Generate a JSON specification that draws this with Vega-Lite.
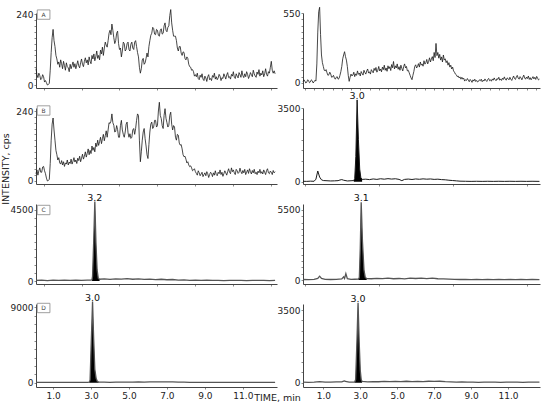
{
"$schema": "https://vega.github.io/schema/vega-lite/v6.json",
"background": "white",
"padding": {"left": 1, "top": 5, "right": 4, "bottom": 0},
"config": {
  "view": {"stroke": null},
  "font": "DejaVu Sans",
  "axis": {"grid": false, "domainColor": "#444", "domainWidth": 1, "tickColor": "#888", "tickSize": 2, "labelFont": "DejaVu Sans", "labelFontSize": 9, "labelColor": "#222", "labelPadding": 1, "titleFont": "DejaVu Sans", "titleFontSize": 9.5, "titleFontWeight": "normal", "titleColor": "#222"}
},
"datasets": {
"A": [{"t":0.1,"v":55},{"t":0.15,"v":35},{"t":0.2,"v":25},{"t":0.25,"v":40},{"t":0.3,"v":32},{"t":0.35,"v":18},{"t":0.4,"v":22},{"t":0.45,"v":35},{"t":0.5,"v":28},{"t":0.55,"v":10},{"t":0.6,"v":15},{"t":0.65,"v":8},{"t":0.7,"v":0},{"t":0.75,"v":2},{"t":0.8,"v":5},{"t":0.85,"v":50},{"t":0.9,"v":110},{"t":0.95,"v":160},{"t":1.0,"v":188},{"t":1.05,"v":150},{"t":1.1,"v":130},{"t":1.15,"v":100},{"t":1.2,"v":88},{"t":1.25,"v":70},{"t":1.3,"v":78},{"t":1.35,"v":60},{"t":1.4,"v":85},{"t":1.45,"v":72},{"t":1.5,"v":55},{"t":1.55,"v":80},{"t":1.6,"v":66},{"t":1.65,"v":50},{"t":1.7,"v":75},{"t":1.75,"v":62},{"t":1.8,"v":58},{"t":1.85,"v":45},{"t":1.9,"v":70},{"t":1.95,"v":55},{"t":2.0,"v":66},{"t":2.05,"v":78},{"t":2.1,"v":60},{"t":2.15,"v":72},{"t":2.2,"v":55},{"t":2.25,"v":68},{"t":2.3,"v":82},{"t":2.35,"v":65},{"t":2.4,"v":58},{"t":2.45,"v":75},{"t":2.5,"v":88},{"t":2.55,"v":70},{"t":2.6,"v":62},{"t":2.65,"v":80},{"t":2.7,"v":92},{"t":2.75,"v":75},{"t":2.8,"v":85},{"t":2.85,"v":68},{"t":2.9,"v":95},{"t":2.95,"v":80},{"t":3.0,"v":72},{"t":3.05,"v":100},{"t":3.1,"v":88},{"t":3.15,"v":105},{"t":3.2,"v":82},{"t":3.25,"v":95},{"t":3.3,"v":115},{"t":3.35,"v":90},{"t":3.4,"v":100},{"t":3.45,"v":85},{"t":3.5,"v":118},{"t":3.55,"v":105},{"t":3.6,"v":128},{"t":3.65,"v":100},{"t":3.7,"v":125},{"t":3.75,"v":145},{"t":3.8,"v":135},{"t":3.85,"v":128},{"t":3.9,"v":150},{"t":3.95,"v":175},{"t":4.0,"v":185},{"t":4.05,"v":170},{"t":4.1,"v":206},{"t":4.15,"v":185},{"t":4.2,"v":160},{"t":4.25,"v":140},{"t":4.3,"v":150},{"t":4.35,"v":175},{"t":4.4,"v":182},{"t":4.45,"v":140},{"t":4.5,"v":120},{"t":4.55,"v":125},{"t":4.6,"v":95},{"t":4.65,"v":115},{"t":4.7,"v":145},{"t":4.75,"v":140},{"t":4.8,"v":115},{"t":4.85,"v":120},{"t":4.9,"v":140},{"t":4.95,"v":145},{"t":5.0,"v":120},{"t":5.05,"v":115},{"t":5.1,"v":138},{"t":5.15,"v":145},{"t":5.2,"v":125},{"t":5.25,"v":120},{"t":5.3,"v":145},{"t":5.35,"v":150},{"t":5.4,"v":130},{"t":5.45,"v":110},{"t":5.5,"v":95},{"t":5.55,"v":60},{"t":5.6,"v":40},{"t":5.65,"v":55},{"t":5.7,"v":85},{"t":5.75,"v":90},{"t":5.8,"v":70},{"t":5.85,"v":75},{"t":5.9,"v":90},{"t":5.95,"v":108},{"t":6.0,"v":95},{"t":6.05,"v":130},{"t":6.1,"v":150},{"t":6.15,"v":168},{"t":6.2,"v":175},{"t":6.25,"v":195},{"t":6.3,"v":191},{"t":6.35,"v":172},{"t":6.4,"v":170},{"t":6.45,"v":188},{"t":6.5,"v":185},{"t":6.55,"v":168},{"t":6.6,"v":165},{"t":6.65,"v":185},{"t":6.7,"v":190},{"t":6.75,"v":172},{"t":6.8,"v":175},{"t":6.85,"v":200},{"t":6.9,"v":210},{"t":6.95,"v":185},{"t":7.0,"v":180},{"t":7.05,"v":195},{"t":7.1,"v":200},{"t":7.15,"v":235},{"t":7.2,"v":255},{"t":7.25,"v":210},{"t":7.3,"v":185},{"t":7.35,"v":165},{"t":7.4,"v":165},{"t":7.45,"v":165},{"t":7.5,"v":150},{"t":7.55,"v":125},{"t":7.6,"v":115},{"t":7.65,"v":130},{"t":7.7,"v":130},{"t":7.75,"v":108},{"t":7.8,"v":100},{"t":7.85,"v":112},{"t":7.9,"v":110},{"t":7.95,"v":90},{"t":8.0,"v":85},{"t":8.05,"v":95},{"t":8.1,"v":90},{"t":8.15,"v":70},{"t":8.2,"v":62},{"t":8.25,"v":60},{"t":8.3,"v":50},{"t":8.35,"v":52},{"t":8.4,"v":45},{"t":8.45,"v":30},{"t":8.5,"v":35},{"t":8.55,"v":28},{"t":8.6,"v":40},{"t":8.65,"v":22},{"t":8.7,"v":18},{"t":8.75,"v":33},{"t":8.8,"v":26},{"t":8.85,"v":38},{"t":8.9,"v":20},{"t":8.95,"v":15},{"t":9.0,"v":30},{"t":9.05,"v":24},{"t":9.1,"v":12},{"t":9.15,"v":28},{"t":9.2,"v":35},{"t":9.25,"v":18},{"t":9.3,"v":22},{"t":9.35,"v":15},{"t":9.4,"v":32},{"t":9.45,"v":26},{"t":9.5,"v":40},{"t":9.55,"v":20},{"t":9.6,"v":28},{"t":9.65,"v":18},{"t":9.7,"v":24},{"t":9.75,"v":36},{"t":9.8,"v":30},{"t":9.85,"v":15},{"t":9.9,"v":25},{"t":9.95,"v":22},{"t":10.0,"v":38},{"t":10.05,"v":30},{"t":10.1,"v":20},{"t":10.15,"v":34},{"t":10.2,"v":42},{"t":10.25,"v":25},{"t":10.3,"v":28},{"t":10.35,"v":20},{"t":10.4,"v":36},{"t":10.45,"v":30},{"t":10.5,"v":45},{"t":10.55,"v":26},{"t":10.6,"v":22},{"t":10.65,"v":38},{"t":10.7,"v":30},{"t":10.75,"v":24},{"t":10.8,"v":42},{"t":10.85,"v":35},{"t":10.9,"v":26},{"t":10.95,"v":48},{"t":11.0,"v":32},{"t":11.05,"v":25},{"t":11.1,"v":38},{"t":11.15,"v":28},{"t":11.2,"v":45},{"t":11.25,"v":36},{"t":11.3,"v":22},{"t":11.35,"v":30},{"t":11.4,"v":42},{"t":11.45,"v":35},{"t":11.5,"v":28},{"t":11.55,"v":50},{"t":11.6,"v":38},{"t":11.65,"v":30},{"t":11.7,"v":26},{"t":11.75,"v":44},{"t":11.8,"v":36},{"t":11.85,"v":52},{"t":11.9,"v":30},{"t":11.95,"v":40},{"t":12.0,"v":34},{"t":12.05,"v":48},{"t":12.1,"v":28},{"t":12.15,"v":38},{"t":12.2,"v":55},{"t":12.25,"v":36},{"t":12.3,"v":30},{"t":12.35,"v":45},{"t":12.4,"v":40},{"t":12.45,"v":60},{"t":12.5,"v":80},{"t":12.55,"v":50},{"t":12.6,"v":40},{"t":12.65,"v":48},{"t":12.7,"v":38}],
"R1": [{"t":-0.1,"v":12},{"t":-0.05,"v":25},{"t":0.0,"v":15},{"t":0.05,"v":0},{"t":0.1,"v":5},{"t":0.15,"v":25},{"t":0.2,"v":20},{"t":0.25,"v":2},{"t":0.3,"v":8},{"t":0.35,"v":25},{"t":0.4,"v":18},{"t":0.45,"v":0},{"t":0.5,"v":10},{"t":0.55,"v":22},{"t":0.6,"v":15},{"t":0.65,"v":150},{"t":0.7,"v":400},{"t":0.75,"v":560},{"t":0.8,"v":595},{"t":0.85,"v":380},{"t":0.9,"v":220},{"t":0.95,"v":160},{"t":1.0,"v":130},{"t":1.05,"v":100},{"t":1.1,"v":95},{"t":1.15,"v":105},{"t":1.2,"v":80},{"t":1.25,"v":60},{"t":1.3,"v":65},{"t":1.35,"v":85},{"t":1.4,"v":70},{"t":1.45,"v":45},{"t":1.5,"v":48},{"t":1.55,"v":60},{"t":1.6,"v":40},{"t":1.65,"v":30},{"t":1.7,"v":45},{"t":1.75,"v":50},{"t":1.8,"v":30},{"t":1.85,"v":35},{"t":1.9,"v":60},{"t":1.95,"v":90},{"t":2.0,"v":130},{"t":2.05,"v":190},{"t":2.1,"v":220},{"t":2.15,"v":246},{"t":2.2,"v":207},{"t":2.25,"v":180},{"t":2.3,"v":130},{"t":2.35,"v":60},{"t":2.4,"v":13},{"t":2.45,"v":45},{"t":2.5,"v":70},{"t":2.55,"v":55},{"t":2.6,"v":62},{"t":2.65,"v":85},{"t":2.7,"v":50},{"t":2.75,"v":72},{"t":2.8,"v":60},{"t":2.85,"v":95},{"t":2.9,"v":68},{"t":2.95,"v":78},{"t":3.0,"v":55},{"t":3.05,"v":90},{"t":3.1,"v":75},{"t":3.15,"v":62},{"t":3.2,"v":100},{"t":3.25,"v":82},{"t":3.3,"v":70},{"t":3.35,"v":95},{"t":3.4,"v":110},{"t":3.45,"v":78},{"t":3.5,"v":88},{"t":3.55,"v":70},{"t":3.6,"v":105},{"t":3.65,"v":92},{"t":3.7,"v":80},{"t":3.75,"v":115},{"t":3.8,"v":98},{"t":3.85,"v":122},{"t":3.9,"v":85},{"t":3.95,"v":100},{"t":4.0,"v":130},{"t":4.05,"v":95},{"t":4.1,"v":110},{"t":4.15,"v":88},{"t":4.2,"v":125},{"t":4.25,"v":105},{"t":4.3,"v":140},{"t":4.35,"v":100},{"t":4.4,"v":118},{"t":4.45,"v":92},{"t":4.5,"v":135},{"t":4.55,"v":112},{"t":4.6,"v":128},{"t":4.65,"v":98},{"t":4.7,"v":145},{"t":4.75,"v":120},{"t":4.8,"v":169},{"t":4.85,"v":110},{"t":4.9,"v":135},{"t":4.95,"v":118},{"t":5.0,"v":150},{"t":5.05,"v":108},{"t":5.1,"v":128},{"t":5.15,"v":100},{"t":5.2,"v":140},{"t":5.25,"v":115},{"t":5.3,"v":95},{"t":5.35,"v":130},{"t":5.4,"v":150},{"t":5.45,"v":118},{"t":5.5,"v":130},{"t":5.55,"v":95},{"t":5.6,"v":100},{"t":5.65,"v":80},{"t":5.7,"v":60},{"t":5.75,"v":40},{"t":5.8,"v":26},{"t":5.85,"v":60},{"t":5.9,"v":90},{"t":5.95,"v":130},{"t":6.0,"v":143},{"t":6.05,"v":118},{"t":6.1,"v":130},{"t":6.15,"v":152},{"t":6.2,"v":125},{"t":6.25,"v":165},{"t":6.3,"v":140},{"t":6.35,"v":150},{"t":6.4,"v":132},{"t":6.45,"v":175},{"t":6.5,"v":148},{"t":6.55,"v":160},{"t":6.6,"v":185},{"t":6.65,"v":150},{"t":6.7,"v":170},{"t":6.75,"v":198},{"t":6.8,"v":165},{"t":6.85,"v":190},{"t":6.9,"v":207},{"t":6.95,"v":175},{"t":7.0,"v":240},{"t":7.05,"v":200},{"t":7.1,"v":311},{"t":7.15,"v":215},{"t":7.2,"v":240},{"t":7.25,"v":195},{"t":7.3,"v":225},{"t":7.35,"v":180},{"t":7.4,"v":205},{"t":7.45,"v":165},{"t":7.5,"v":220},{"t":7.55,"v":180},{"t":7.6,"v":190},{"t":7.65,"v":160},{"t":7.7,"v":175},{"t":7.75,"v":140},{"t":7.8,"v":160},{"t":7.85,"v":125},{"t":7.9,"v":140},{"t":7.95,"v":110},{"t":8.0,"v":125},{"t":8.05,"v":95},{"t":8.1,"v":85},{"t":8.15,"v":70},{"t":8.2,"v":65},{"t":8.25,"v":50},{"t":8.3,"v":55},{"t":8.35,"v":40},{"t":8.4,"v":48},{"t":8.45,"v":30},{"t":8.5,"v":45},{"t":8.55,"v":30},{"t":8.6,"v":38},{"t":8.65,"v":15},{"t":8.7,"v":26},{"t":8.75,"v":20},{"t":8.8,"v":35},{"t":8.85,"v":22},{"t":8.9,"v":10},{"t":8.95,"v":28},{"t":9.0,"v":18},{"t":9.05,"v":5},{"t":9.1,"v":25},{"t":9.15,"v":15},{"t":9.2,"v":30},{"t":9.25,"v":12},{"t":9.3,"v":20},{"t":9.35,"v":8},{"t":9.4,"v":13},{"t":9.45,"v":25},{"t":9.5,"v":18},{"t":9.55,"v":30},{"t":9.6,"v":10},{"t":9.65,"v":22},{"t":9.7,"v":15},{"t":9.75,"v":32},{"t":9.8,"v":20},{"t":9.85,"v":12},{"t":9.9,"v":28},{"t":9.95,"v":36},{"t":10.0,"v":18},{"t":10.05,"v":25},{"t":10.1,"v":14},{"t":10.15,"v":32},{"t":10.2,"v":22},{"t":10.25,"v":40},{"t":10.3,"v":26},{"t":10.35,"v":18},{"t":10.4,"v":35},{"t":10.45,"v":28},{"t":10.5,"v":45},{"t":10.55,"v":22},{"t":10.6,"v":32},{"t":10.65,"v":20},{"t":10.7,"v":38},{"t":10.75,"v":28},{"t":10.8,"v":48},{"t":10.85,"v":30},{"t":10.9,"v":22},{"t":10.95,"v":40},{"t":11.0,"v":35},{"t":11.05,"v":25},{"t":11.1,"v":45},{"t":11.15,"v":30},{"t":11.2,"v":20},{"t":11.25,"v":38},{"t":11.3,"v":55},{"t":11.35,"v":35},{"t":11.4,"v":28},{"t":11.45,"v":48},{"t":11.5,"v":60},{"t":11.55,"v":38},{"t":11.6,"v":30},{"t":11.65,"v":50},{"t":11.7,"v":40},{"t":11.75,"v":25},{"t":11.8,"v":45},{"t":11.85,"v":62},{"t":11.9,"v":40},{"t":11.95,"v":30},{"t":12.0,"v":47},{"t":12.05,"v":35},{"t":12.1,"v":55},{"t":12.15,"v":28},{"t":12.2,"v":42},{"t":12.25,"v":25},{"t":12.3,"v":38},{"t":12.35,"v":50},{"t":12.4,"v":32},{"t":12.45,"v":45},{"t":12.5,"v":28},{"t":12.55,"v":52},{"t":12.6,"v":38},{"t":12.65,"v":24},{"t":12.7,"v":30}],
"B": [{"t":0.1,"v":25},{"t":0.15,"v":38},{"t":0.2,"v":20},{"t":0.25,"v":35},{"t":0.3,"v":45},{"t":0.35,"v":30},{"t":0.4,"v":30},{"t":0.45,"v":48},{"t":0.5,"v":50},{"t":0.55,"v":35},{"t":0.6,"v":25},{"t":0.65,"v":10},{"t":0.7,"v":0},{"t":0.75,"v":2},{"t":0.8,"v":5},{"t":0.85,"v":60},{"t":0.9,"v":140},{"t":0.95,"v":195},{"t":1.0,"v":216},{"t":1.05,"v":175},{"t":1.1,"v":140},{"t":1.15,"v":105},{"t":1.2,"v":90},{"t":1.25,"v":72},{"t":1.3,"v":80},{"t":1.35,"v":62},{"t":1.4,"v":58},{"t":1.45,"v":70},{"t":1.5,"v":55},{"t":1.55,"v":66},{"t":1.6,"v":50},{"t":1.65,"v":62},{"t":1.7,"v":58},{"t":1.75,"v":72},{"t":1.8,"v":55},{"t":1.85,"v":65},{"t":1.9,"v":60},{"t":1.95,"v":75},{"t":2.0,"v":58},{"t":2.05,"v":68},{"t":2.1,"v":80},{"t":2.15,"v":65},{"t":2.2,"v":72},{"t":2.25,"v":60},{"t":2.3,"v":78},{"t":2.35,"v":70},{"t":2.4,"v":85},{"t":2.45,"v":66},{"t":2.5,"v":78},{"t":2.55,"v":92},{"t":2.6,"v":75},{"t":2.65,"v":85},{"t":2.7,"v":100},{"t":2.75,"v":82},{"t":2.8,"v":95},{"t":2.85,"v":110},{"t":2.9,"v":90},{"t":2.95,"v":105},{"t":3.0,"v":94},{"t":3.05,"v":120},{"t":3.1,"v":105},{"t":3.15,"v":115},{"t":3.2,"v":100},{"t":3.25,"v":130},{"t":3.3,"v":118},{"t":3.35,"v":140},{"t":3.4,"v":122},{"t":3.45,"v":135},{"t":3.5,"v":150},{"t":3.55,"v":128},{"t":3.6,"v":145},{"t":3.65,"v":160},{"t":3.7,"v":138},{"t":3.75,"v":155},{"t":3.8,"v":172},{"t":3.85,"v":150},{"t":3.9,"v":175},{"t":3.95,"v":200},{"t":4.0,"v":197},{"t":4.05,"v":205},{"t":4.1,"v":230},{"t":4.15,"v":200},{"t":4.2,"v":191},{"t":4.25,"v":168},{"t":4.3,"v":170},{"t":4.35,"v":190},{"t":4.4,"v":176},{"t":4.45,"v":150},{"t":4.5,"v":150},{"t":4.55,"v":190},{"t":4.6,"v":208},{"t":4.65,"v":175},{"t":4.7,"v":160},{"t":4.75,"v":150},{"t":4.8,"v":168},{"t":4.85,"v":195},{"t":4.9,"v":202},{"t":4.95,"v":165},{"t":5.0,"v":150},{"t":5.05,"v":162},{"t":5.1,"v":146},{"t":5.15,"v":150},{"t":5.2,"v":175},{"t":5.25,"v":180},{"t":5.3,"v":160},{"t":5.35,"v":180},{"t":5.4,"v":208},{"t":5.45,"v":230},{"t":5.5,"v":225},{"t":5.55,"v":140},{"t":5.6,"v":66},{"t":5.65,"v":100},{"t":5.7,"v":140},{"t":5.75,"v":168},{"t":5.8,"v":180},{"t":5.85,"v":145},{"t":5.9,"v":120},{"t":5.95,"v":90},{"t":6.0,"v":77},{"t":6.05,"v":125},{"t":6.1,"v":168},{"t":6.15,"v":195},{"t":6.2,"v":202},{"t":6.25,"v":180},{"t":6.3,"v":185},{"t":6.35,"v":208},{"t":6.4,"v":208},{"t":6.45,"v":185},{"t":6.5,"v":190},{"t":6.55,"v":240},{"t":6.6,"v":270},{"t":6.65,"v":225},{"t":6.7,"v":214},{"t":6.75,"v":190},{"t":6.8,"v":180},{"t":6.85,"v":225},{"t":6.9,"v":248},{"t":6.95,"v":215},{"t":7.0,"v":200},{"t":7.05,"v":185},{"t":7.1,"v":191},{"t":7.15,"v":225},{"t":7.2,"v":236},{"t":7.25,"v":195},{"t":7.3,"v":175},{"t":7.35,"v":190},{"t":7.4,"v":185},{"t":7.45,"v":150},{"t":7.5,"v":140},{"t":7.55,"v":160},{"t":7.6,"v":157},{"t":7.65,"v":130},{"t":7.7,"v":123},{"t":7.75,"v":125},{"t":7.8,"v":110},{"t":7.85,"v":90},{"t":7.9,"v":83},{"t":7.95,"v":85},{"t":8.0,"v":75},{"t":8.05,"v":62},{"t":8.1,"v":66},{"t":8.15,"v":55},{"t":8.2,"v":49},{"t":8.25,"v":52},{"t":8.3,"v":45},{"t":8.35,"v":35},{"t":8.4,"v":38},{"t":8.45,"v":42},{"t":8.5,"v":32},{"t":8.55,"v":26},{"t":8.6,"v":20},{"t":8.65,"v":35},{"t":8.7,"v":28},{"t":8.75,"v":18},{"t":8.8,"v":24},{"t":8.85,"v":30},{"t":8.9,"v":15},{"t":8.95,"v":22},{"t":9.0,"v":28},{"t":9.05,"v":18},{"t":9.1,"v":32},{"t":9.15,"v":25},{"t":9.2,"v":12},{"t":9.25,"v":22},{"t":9.3,"v":30},{"t":9.35,"v":26},{"t":9.4,"v":15},{"t":9.45,"v":28},{"t":9.5,"v":20},{"t":9.55,"v":35},{"t":9.6,"v":22},{"t":9.65,"v":18},{"t":9.7,"v":30},{"t":9.75,"v":25},{"t":9.8,"v":38},{"t":9.85,"v":22},{"t":9.9,"v":30},{"t":9.95,"v":16},{"t":10.0,"v":25},{"t":10.05,"v":35},{"t":10.1,"v":28},{"t":10.15,"v":20},{"t":10.2,"v":32},{"t":10.25,"v":42},{"t":10.3,"v":30},{"t":10.35,"v":25},{"t":10.4,"v":45},{"t":10.45,"v":32},{"t":10.5,"v":38},{"t":10.55,"v":28},{"t":10.6,"v":22},{"t":10.65,"v":40},{"t":10.7,"v":35},{"t":10.75,"v":26},{"t":10.8,"v":30},{"t":10.85,"v":44},{"t":10.9,"v":32},{"t":10.95,"v":25},{"t":11.0,"v":36},{"t":11.05,"v":28},{"t":11.1,"v":40},{"t":11.15,"v":22},{"t":11.2,"v":30},{"t":11.25,"v":38},{"t":11.3,"v":26},{"t":11.35,"v":42},{"t":11.4,"v":32},{"t":11.45,"v":24},{"t":11.5,"v":36},{"t":11.55,"v":28},{"t":11.6,"v":40},{"t":11.65,"v":25},{"t":11.7,"v":30},{"t":11.75,"v":22},{"t":11.8,"v":34},{"t":11.85,"v":28},{"t":11.9,"v":40},{"t":11.95,"v":26},{"t":12.0,"v":32},{"t":12.05,"v":24},{"t":12.1,"v":38},{"t":12.15,"v":30},{"t":12.2,"v":22},{"t":12.25,"v":36},{"t":12.3,"v":42},{"t":12.35,"v":28},{"t":12.4,"v":25},{"t":12.45,"v":34},{"t":12.5,"v":30},{"t":12.55,"v":22},{"t":12.6,"v":36},{"t":12.65,"v":28},{"t":12.7,"v":32}],
"R2": [{"t":-0.1,"v":20},{"t":0.1,"v":15},{"t":0.3,"v":25},{"t":0.5,"v":20},{"t":0.6,"v":120},{"t":0.7,"v":510},{"t":0.8,"v":220},{"t":0.9,"v":90},{"t":1.0,"v":55},{"t":1.2,"v":45},{"t":1.4,"v":35},{"t":1.6,"v":40},{"t":1.8,"v":50},{"t":1.9,"v":80},{"t":2.0,"v":100},{"t":2.1,"v":70},{"t":2.3,"v":35},{"t":2.5,"v":45},{"t":2.65,"v":55,"p":1},{"t":2.7,"v":150,"p":1},{"t":2.76,"v":1200,"p":1},{"t":2.83,"v":3900,"p":1},{"t":2.9,"v":2000,"p":1},{"t":2.97,"v":600,"p":1},{"t":3.03,"v":200,"p":1},{"t":3.1,"v":110,"p":1},{"t":3.3,"v":120},{"t":3.5,"v":100},{"t":3.7,"v":130},{"t":3.9,"v":110},{"t":4.1,"v":140},{"t":4.3,"v":120},{"t":4.5,"v":145},{"t":4.7,"v":125},{"t":4.9,"v":140},{"t":5.1,"v":110},{"t":5.25,"v":50},{"t":5.4,"v":110},{"t":5.6,"v":125},{"t":5.8,"v":105},{"t":6.0,"v":130},{"t":6.2,"v":115},{"t":6.4,"v":135},{"t":6.6,"v":120},{"t":6.8,"v":130},{"t":7.0,"v":110},{"t":7.2,"v":120},{"t":7.4,"v":100},{"t":7.6,"v":90},{"t":7.8,"v":70},{"t":8.0,"v":55},{"t":8.2,"v":40},{"t":8.4,"v":25},{"t":8.7,"v":20},{"t":9.0,"v":15},{"t":9.3,"v":20},{"t":9.6,"v":15},{"t":9.9,"v":20},{"t":10.2,"v":15},{"t":10.5,"v":20},{"t":10.8,"v":15},{"t":11.1,"v":20},{"t":11.4,"v":15},{"t":11.7,"v":20},{"t":12.0,"v":15},{"t":12.3,"v":20},{"t":12.7,"v":15}],
"C": [{"t":0.1,"v":40},{"t":0.4,"v":60},{"t":0.7,"v":30},{"t":1.0,"v":50},{"t":1.3,"v":35},{"t":1.6,"v":55},{"t":1.9,"v":40},{"t":2.2,"v":60},{"t":2.5,"v":45},{"t":2.8,"v":55},{"t":3.0,"v":50},{"t":3.05,"v":80,"p":1},{"t":3.08,"v":300,"p":1},{"t":3.14,"v":2500,"p":1},{"t":3.2,"v":5030,"p":1},{"t":3.26,"v":2400,"p":1},{"t":3.32,"v":700,"p":1},{"t":3.38,"v":180,"p":1},{"t":3.45,"v":110,"p":1},{"t":3.7,"v":130},{"t":4.0,"v":100},{"t":4.3,"v":140},{"t":4.6,"v":120},{"t":4.9,"v":150},{"t":5.2,"v":110},{"t":5.5,"v":130},{"t":5.8,"v":100},{"t":6.1,"v":120},{"t":6.4,"v":90},{"t":6.7,"v":110},{"t":7.0,"v":80},{"t":7.3,"v":95},{"t":7.6,"v":60},{"t":7.9,"v":70},{"t":8.2,"v":45},{"t":8.5,"v":55},{"t":8.8,"v":40},{"t":9.1,"v":50},{"t":9.4,"v":35},{"t":9.7,"v":45},{"t":10.0,"v":30},{"t":10.3,"v":45},{"t":10.6,"v":35},{"t":10.9,"v":40},{"t":11.2,"v":30},{"t":11.5,"v":45},{"t":11.8,"v":35},{"t":12.1,"v":40},{"t":12.4,"v":30},{"t":12.7,"v":40}],
"R3": [{"t":-0.1,"v":40},{"t":0.2,"v":30},{"t":0.5,"v":45},{"t":0.7,"v":120},{"t":0.8,"v":300},{"t":0.9,"v":120},{"t":1.1,"v":50},{"t":1.4,"v":40},{"t":1.7,"v":55},{"t":2.0,"v":80},{"t":2.1,"v":250},{"t":2.15,"v":120},{"t":2.22,"v":500},{"t":2.3,"v":100},{"t":2.5,"v":50},{"t":2.7,"v":60},{"t":2.9,"v":70,"p":1},{"t":2.95,"v":200,"p":1},{"t":3.0,"v":2500,"p":1},{"t":3.05,"v":6100,"p":1},{"t":3.12,"v":3000,"p":1},{"t":3.2,"v":800,"p":1},{"t":3.27,"v":200,"p":1},{"t":3.35,"v":110,"p":1},{"t":3.6,"v":100},{"t":3.9,"v":130},{"t":4.2,"v":110},{"t":4.5,"v":140},{"t":4.8,"v":100},{"t":5.1,"v":120},{"t":5.4,"v":90},{"t":5.7,"v":150},{"t":6.0,"v":120},{"t":6.3,"v":140},{"t":6.6,"v":110},{"t":6.9,"v":150},{"t":7.2,"v":100},{"t":7.5,"v":90},{"t":7.8,"v":70},{"t":8.1,"v":55},{"t":8.4,"v":40},{"t":8.7,"v":50},{"t":9.0,"v":35},{"t":9.3,"v":45},{"t":9.6,"v":30},{"t":9.9,"v":40},{"t":10.2,"v":35},{"t":10.5,"v":45},{"t":10.8,"v":30},{"t":11.1,"v":40},{"t":11.4,"v":35},{"t":11.7,"v":45},{"t":12.0,"v":30},{"t":12.3,"v":40},{"t":12.7,"v":35}],
"D": [{"t":0.1,"v":40},{"t":0.4,"v":30},{"t":0.7,"v":50},{"t":1.0,"v":35},{"t":1.3,"v":45},{"t":1.6,"v":30},{"t":1.9,"v":50},{"t":2.2,"v":35},{"t":2.5,"v":45},{"t":2.8,"v":40},{"t":2.9,"v":60,"p":1},{"t":2.95,"v":300,"p":1},{"t":3.0,"v":4000,"p":1},{"t":3.08,"v":9680,"p":1},{"t":3.14,"v":5200,"p":1},{"t":3.2,"v":1600,"p":1},{"t":3.27,"v":500,"p":1},{"t":3.33,"v":180,"p":1},{"t":3.4,"v":80,"p":1},{"t":3.7,"v":60},{"t":4.0,"v":50},{"t":4.3,"v":70},{"t":4.6,"v":60},{"t":4.9,"v":80},{"t":5.2,"v":70},{"t":5.5,"v":90},{"t":5.8,"v":80},{"t":6.1,"v":100},{"t":6.4,"v":90},{"t":6.7,"v":110},{"t":7.0,"v":100},{"t":7.3,"v":90},{"t":7.6,"v":70},{"t":7.9,"v":60},{"t":8.2,"v":45},{"t":8.5,"v":50},{"t":8.8,"v":35},{"t":9.1,"v":45},{"t":9.4,"v":30},{"t":9.7,"v":40},{"t":10.0,"v":30},{"t":10.3,"v":40},{"t":10.6,"v":30},{"t":10.9,"v":35},{"t":11.2,"v":30},{"t":11.5,"v":40},{"t":11.8,"v":30},{"t":12.1,"v":35},{"t":12.4,"v":30},{"t":12.7,"v":35}],
"R4": [{"t":-0.1,"v":30},{"t":0.2,"v":20},{"t":0.5,"v":30},{"t":0.8,"v":50},{"t":1.1,"v":30},{"t":1.4,"v":25},{"t":1.7,"v":35},{"t":2.0,"v":40},{"t":2.1,"v":80},{"t":2.15,"v":90},{"t":2.2,"v":60},{"t":2.4,"v":30},{"t":2.6,"v":25},{"t":2.7,"v":30,"p":1},{"t":2.75,"v":150,"p":1},{"t":2.82,"v":2000,"p":1},{"t":2.88,"v":3850,"p":1},{"t":2.94,"v":2000,"p":1},{"t":3.0,"v":600,"p":1},{"t":3.05,"v":150,"p":1},{"t":3.1,"v":60,"p":1},{"t":3.4,"v":40},{"t":3.7,"v":50},{"t":4.0,"v":45},{"t":4.3,"v":60},{"t":4.6,"v":50},{"t":4.9,"v":65},{"t":5.2,"v":55},{"t":5.5,"v":70},{"t":5.8,"v":55},{"t":6.1,"v":65},{"t":6.4,"v":50},{"t":6.7,"v":70},{"t":7.0,"v":60},{"t":7.3,"v":70},{"t":7.6,"v":50},{"t":7.9,"v":40},{"t":8.2,"v":30},{"t":8.5,"v":35},{"t":8.8,"v":25},{"t":9.1,"v":30},{"t":9.4,"v":20},{"t":9.7,"v":30},{"t":10.0,"v":25},{"t":10.3,"v":30},{"t":10.6,"v":20},{"t":10.9,"v":30},{"t":11.2,"v":25},{"t":11.5,"v":30},{"t":11.8,"v":20},{"t":12.1,"v":30},{"t":12.4,"v":25},{"t":12.7,"v":30}]
},
"columns": 2,
"spacing": {"row": 20, "column": 26},
"bounds": "flush",
"concat": [
{"width": 241, "height": 75, "layer": [
  {"data": {"name": "A"}, "mark": {"type": "line", "color": "#1a1a1a", "strokeWidth": 0.8},
   "encoding": {
    "x": {"field": "t", "type": "quantitative", "scale": {"domain": [0.1, 12.8], "nice": false, "zero": false}, "axis": {"values": [0.5,1,1.5,2,2.5,3,3.5,4,4.5,5,5.5,6,6.5,7,7.5,8,8.5,9,9.5,10,10.5,11,11.5,12,12.5], "labels": false, "title": null}},
    "y": {"field": "v", "type": "quantitative", "scale": {"domain": [-10.1, 243.4], "nice": false, "zero": false}, "axis": {"tickCount": 10, "format": "d", "labelExpr": "datum.value == 0 || datum.value == 240 ? datum.label : ''", "title": null}}}},
  {"data": {"values": [{"letter": "A"}]}, "mark": {"type": "point", "shape": "M-1.35,-1H1.35V1H-1.35Z", "size": 88, "filled": true, "fill": "white", "stroke": "#888", "strokeWidth": 0.8, "opacity": 1},
   "encoding": {"x": {"datum": 0.5, "type": "quantitative"}, "y": {"datum": 238, "type": "quantitative"}}},
  {"data": {"values": [{"letter": "A"}]}, "mark": {"type": "text", "fontSize": 6, "color": "#444"},
   "encoding": {"x": {"datum": 0.5, "type": "quantitative"}, "y": {"datum": 238, "type": "quantitative"}, "text": {"field": "letter"}}}
]},
{"width": 237, "height": 75, "layer": [
  {"data": {"name": "R1"}, "mark": {"type": "line", "color": "#1a1a1a", "strokeWidth": 0.8},
   "encoding": {
    "x": {"field": "t", "type": "quantitative", "scale": {"domain": [-0.1, 12.73], "nice": false, "zero": false}, "axis": {"values": [0,0.5,1,1.5,2,2.5,3,3.5,4,4.5,5,5.5,6,6.5,7,7.5,8,8.5,9,9.5,10,10.5,11,11.5,12,12.5], "labels": false, "title": null}},
    "y": {"field": "v", "type": "quantitative", "scale": {"domain": [-39.3, 550], "nice": false, "zero": false}, "axis": {"tickCount": 10, "format": "d", "labelExpr": "datum.value == 0 || datum.value == 550 ? datum.label : ''", "title": null}}}}
]},
{"width": 241, "height": 76, "layer": [
  {"data": {"name": "B"}, "mark": {"type": "line", "color": "#1a1a1a", "strokeWidth": 0.8},
   "encoding": {
    "x": {"field": "t", "type": "quantitative", "scale": {"domain": [0.1, 12.8], "nice": false, "zero": false}, "axis": {"values": [0.5,1,1.5,2,2.5,3,3.5,4,4.5,5,5.5,6,6.5,7,7.5,8,8.5,9,9.5,10,10.5,11,11.5,12,12.5], "labels": false, "title": null}},
    "y": {"field": "v", "type": "quantitative", "scale": {"domain": [-10.3, 250.3], "nice": false, "zero": false}, "axis": {"tickCount": 10, "format": "d", "labelExpr": "datum.value == 0 || datum.value == 240 ? datum.label : ''", "title": null}}}},
  {"data": {"values": [{"label": "INTENSITY, cps"}]}, "mark": {"type": "text", "angle": 270, "align": "center", "baseline": "middle", "fontSize": 9.5, "color": "#222"},
   "encoding": {"x": {"datum": -1.48, "type": "quantitative"}, "y": {"datum": 41, "type": "quantitative"}, "text": {"field": "label"}}},
  {"data": {"values": [{"letter": "B"}]}, "mark": {"type": "point", "shape": "M-1.35,-1H1.35V1H-1.35Z", "size": 88, "filled": true, "fill": "white", "stroke": "#888", "strokeWidth": 0.8, "opacity": 1},
   "encoding": {"x": {"datum": 0.5, "type": "quantitative"}, "y": {"datum": 241.7, "type": "quantitative"}}},
  {"data": {"values": [{"letter": "B"}]}, "mark": {"type": "text", "fontSize": 6, "color": "#444"},
   "encoding": {"x": {"datum": 0.5, "type": "quantitative"}, "y": {"datum": 241.7, "type": "quantitative"}, "text": {"field": "letter"}}}
]},
{"width": 237, "height": 76, "layer": [
  {"data": {"name": "R2"}, "transform": [{"filter": "datum.p == 1"}], "mark": {"type": "area", "color": "#000"},
   "encoding": {
    "x": {"field": "t", "type": "quantitative", "scale": {"domain": [-0.1, 12.73], "nice": false, "zero": false}, "axis": {"values": [0,0.5,1,1.5,2,2.5,3,3.5,4,4.5,5,5.5,6,6.5,7,7.5,8,8.5,9,9.5,10,10.5,11,11.5,12,12.5], "labels": false, "title": null}},
    "y": {"field": "v", "type": "quantitative", "scale": {"domain": [-110, 3514], "nice": false, "zero": false}, "axis": {"tickCount": 10, "format": "d", "labelExpr": "datum.value == 0 || datum.value == 3500 ? datum.label : ''", "title": null}},
    "y2": {"datum": 0}}},
  {"data": {"name": "R2"}, "mark": {"type": "line", "color": "#1a1a1a", "strokeWidth": 1},
   "encoding": {"x": {"field": "t", "type": "quantitative"}, "y": {"field": "v", "type": "quantitative"}}},
  {"data": {"values": [{"t": 2.83, "v": 3900, "label": "3.0"}]}, "mark": {"type": "text", "fontSize": 9.5, "baseline": "alphabetic", "dy": -1, "color": "#111"},
   "encoding": {"x": {"field": "t", "type": "quantitative"}, "y": {"field": "v", "type": "quantitative"}, "text": {"field": "label"}}}
]},
{"width": 241, "height": 80, "layer": [
  {"data": {"name": "C"}, "transform": [{"filter": "datum.p == 1"}], "mark": {"type": "area", "color": "#000"},
   "encoding": {
    "x": {"field": "t", "type": "quantitative", "scale": {"domain": [0.1, 12.8], "nice": false, "zero": false}, "axis": {"values": [0.5,1,1.5,2,2.5,3,3.5,4,4.5,5,5.5,6,6.5,7,7.5,8,8.5,9,9.5,10,10.5,11,11.5,12,12.5], "labels": false, "title": null}},
    "y": {"field": "v", "type": "quantitative", "scale": {"domain": [-190, 4880], "nice": false, "zero": false}, "axis": {"tickCount": 10, "format": "d", "labelExpr": "datum.value == 0 || datum.value == 4500 ? datum.label : ''", "title": null}},
    "y2": {"datum": 0}}},
  {"data": {"name": "C"}, "mark": {"type": "line", "color": "#555", "strokeWidth": 1.3},
   "encoding": {"x": {"field": "t", "type": "quantitative"}, "y": {"field": "v", "type": "quantitative"}}},
  {"data": {"values": [{"t": 3.2, "v": 5030, "label": "3.2"}]}, "mark": {"type": "text", "fontSize": 9.5, "baseline": "alphabetic", "dy": -1, "color": "#111"},
   "encoding": {"x": {"field": "t", "type": "quantitative"}, "y": {"field": "v", "type": "quantitative"}, "text": {"field": "label"}}},
  {"data": {"values": [{"letter": "C"}]}, "mark": {"type": "point", "shape": "M-1.35,-1H1.35V1H-1.35Z", "size": 88, "filled": true, "fill": "white", "stroke": "#888", "strokeWidth": 0.8, "opacity": 1},
   "encoding": {"x": {"datum": 0.5, "type": "quantitative"}, "y": {"datum": 4500, "type": "quantitative"}}},
  {"data": {"values": [{"letter": "C"}]}, "mark": {"type": "text", "fontSize": 6, "color": "#444"},
   "encoding": {"x": {"datum": 0.5, "type": "quantitative"}, "y": {"datum": 4500, "type": "quantitative"}, "text": {"field": "letter"}}}
]},
{"width": 237, "height": 80, "layer": [
  {"data": {"name": "R3"}, "transform": [{"filter": "datum.p == 1"}], "mark": {"type": "area", "color": "#000"},
   "encoding": {
    "x": {"field": "t", "type": "quantitative", "scale": {"domain": [-0.1, 12.73], "nice": false, "zero": false}, "axis": {"values": [0,0.5,1,1.5,2,2.5,3,3.5,4,4.5,5,5.5,6,6.5,7,7.5,8,8.5,9,9.5,10,10.5,11,11.5,12,12.5], "labels": false, "title": null}},
    "y": {"field": "v", "type": "quantitative", "scale": {"domain": [-314, 5971], "nice": false, "zero": false}, "axis": {"tickCount": 10, "format": "d", "labelExpr": "datum.value == 0 || datum.value == 5500 ? datum.label : ''", "title": null}},
    "y2": {"datum": 0}}},
  {"data": {"name": "R3"}, "mark": {"type": "line", "color": "#555", "strokeWidth": 1.3},
   "encoding": {"x": {"field": "t", "type": "quantitative"}, "y": {"field": "v", "type": "quantitative"}}},
  {"data": {"values": [{"t": 3.05, "v": 6100, "label": "3.1"}]}, "mark": {"type": "text", "fontSize": 9.5, "baseline": "alphabetic", "dy": -1, "color": "#111"},
   "encoding": {"x": {"field": "t", "type": "quantitative"}, "y": {"field": "v", "type": "quantitative"}, "text": {"field": "label"}}}
]},
{"width": 241, "height": 83, "layer": [
  {"data": {"name": "D"}, "transform": [{"filter": "datum.p == 1"}], "mark": {"type": "area", "color": "#000"},
   "encoding": {
    "x": {"field": "t", "type": "quantitative", "scale": {"domain": [0.1, 12.8], "nice": false, "zero": false}, "axis": {"values": [1,3,5,7,9,11], "format": ".1f", "labelOverlap": false, "labelPadding": 2, "title": "TIME, min", "titleX": 241, "titleY": 5, "titleAlign": "center", "titleBaseline": "top"}},
    "y": {"field": "v", "type": "quantitative", "scale": {"domain": [-513, 9397], "nice": false, "zero": false}, "axis": {"tickCount": 10, "format": "d", "labelExpr": "datum.value == 0 || datum.value == 9000 ? datum.label : ''", "title": null}},
    "y2": {"datum": 0}}},
  {"data": {"name": "D"}, "mark": {"type": "line", "color": "#555", "strokeWidth": 1.3},
   "encoding": {"x": {"field": "t", "type": "quantitative"}, "y": {"field": "v", "type": "quantitative"}}},
  {"data": {"values": [{"t": 3.08, "v": 9680, "label": "3.0"}]}, "mark": {"type": "text", "fontSize": 9.5, "baseline": "alphabetic", "dy": -1, "color": "#111"},
   "encoding": {"x": {"field": "t", "type": "quantitative"}, "y": {"field": "v", "type": "quantitative"}, "text": {"field": "label"}}},
  {"data": {"values": [{"letter": "D"}]}, "mark": {"type": "point", "shape": "M-1.35,-1H1.35V1H-1.35Z", "size": 88, "filled": true, "fill": "white", "stroke": "#888", "strokeWidth": 0.8, "opacity": 1},
   "encoding": {"x": {"datum": 0.5, "type": "quantitative"}, "y": {"datum": 8920, "type": "quantitative"}}},
  {"data": {"values": [{"letter": "D"}]}, "mark": {"type": "text", "fontSize": 6, "color": "#444"},
   "encoding": {"x": {"datum": 0.5, "type": "quantitative"}, "y": {"datum": 8920, "type": "quantitative"}, "text": {"field": "letter"}}}
]},
{"width": 237, "height": 83, "layer": [
  {"data": {"name": "R4"}, "transform": [{"filter": "datum.p == 1"}], "mark": {"type": "area", "color": "#000"},
   "encoding": {
    "x": {"field": "t", "type": "quantitative", "scale": {"domain": [-0.1, 12.73], "nice": false, "zero": false}, "axis": {"values": [1,3,5,7,9,11], "format": ".1f", "labelOverlap": false, "labelPadding": 2, "title": null}},
    "y": {"field": "v", "type": "quantitative", "scale": {"domain": [-207, 3789], "nice": false, "zero": false}, "axis": {"tickCount": 10, "format": "d", "labelExpr": "datum.value == 0 || datum.value == 3500 ? datum.label : ''", "title": null}},
    "y2": {"datum": 0}}},
  {"data": {"name": "R4"}, "mark": {"type": "line", "color": "#555", "strokeWidth": 1.3},
   "encoding": {"x": {"field": "t", "type": "quantitative"}, "y": {"field": "v", "type": "quantitative"}}},
  {"data": {"values": [{"t": 2.88, "v": 3850, "label": "3.0"}]}, "mark": {"type": "text", "fontSize": 9.5, "baseline": "alphabetic", "dy": -1, "color": "#111"},
   "encoding": {"x": {"field": "t", "type": "quantitative"}, "y": {"field": "v", "type": "quantitative"}, "text": {"field": "label"}}}
]}
]
}
